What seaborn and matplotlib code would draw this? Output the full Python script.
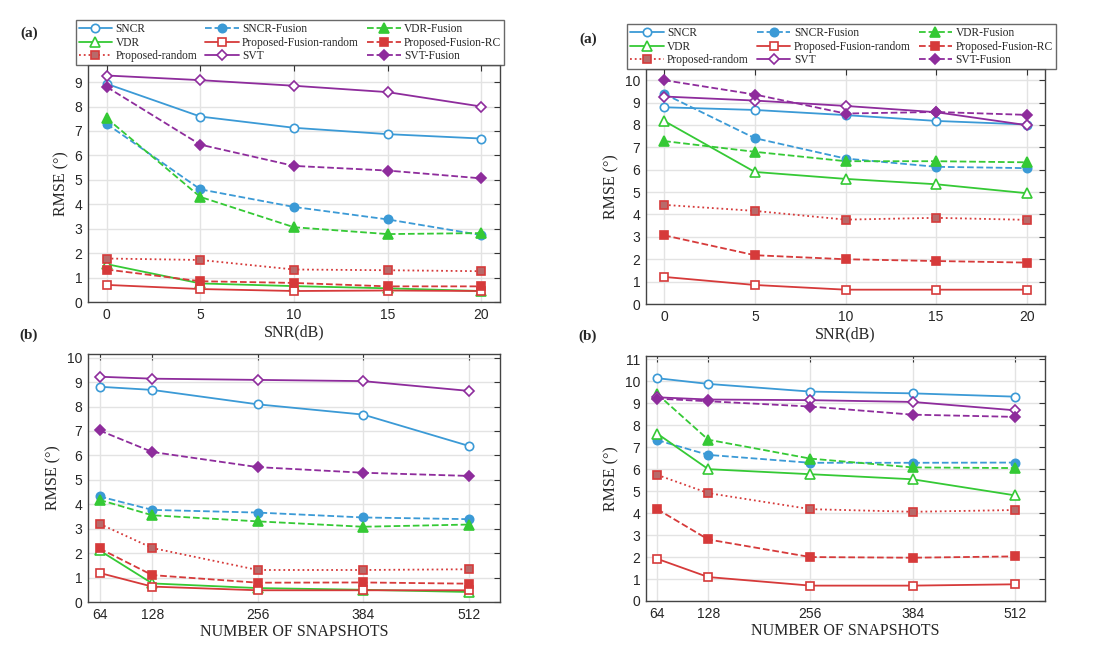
import numpy as np
import pandas as pd
import seaborn as sns
import matplotlib
matplotlib.use("Agg")
import matplotlib.pyplot as plt

# ---- data ----
snr = [0, 5, 10, 15, 20]
snaps = [64, 128, 256, 384, 512]

names = ["SNCR", "SNCR-Fusion", "VDR-Fusion", "VDR", "Proposed-Fusion-random",
         "Proposed-Fusion-RC", "Proposed-random", "SVT", "SVT-Fusion"]

# top left (a)
a1_sncr = [8.93, 7.59, 7.13, 6.87, 6.69]
a1_sncr_fus = [7.29, 4.61, 3.89, 3.38, 2.74]
a1_vdr_fus = [7.52, 4.30, 3.06, 2.78, 2.82]
a1_vdr = [1.55, 0.76, 0.65, 0.56, 0.45]
a1_pfr = [0.70, 0.53, 0.45, 0.47, 0.45]
a1_pfrc = [1.33, 0.85, 0.78, 0.64, 0.64]
a1_pr = [1.78, 1.72, 1.33, 1.30, 1.26]
a1_svt = [9.27, 9.08, 8.85, 8.59, 8.00]
a1_svt_fus = [8.80, 6.44, 5.57, 5.38, 5.06]

# top right (a)
a2_sncr = [8.79, 8.67, 8.44, 8.18, 8.02]
a2_sncr_fus = [9.39, 7.41, 6.50, 6.13, 6.07]
a2_vdr_fus = [7.28, 6.80, 6.38, 6.38, 6.33]
a2_vdr = [8.18, 5.90, 5.59, 5.35, 4.95]
a2_pfr = [1.21, 0.85, 0.64, 0.64, 0.64]
a2_pfrc = [3.07, 2.18, 2.00, 1.92, 1.85]
a2_pr = [4.43, 4.16, 3.77, 3.85, 3.76]
a2_svt = [9.27, 9.09, 8.85, 8.57, 7.99]
a2_svt_fus = [10.0, 9.36, 8.51, 8.58, 8.45]

# bottom left (b)
b1_sncr = [8.81, 8.68, 8.09, 7.67, 6.39]
b1_sncr_fus = [4.32, 3.77, 3.66, 3.46, 3.39]
b1_vdr_fus = [4.18, 3.55, 3.30, 3.08, 3.17]
b1_vdr = [2.11, 0.76, 0.57, 0.50, 0.41]
b1_pfr = [1.19, 0.63, 0.48, 0.48, 0.48]
b1_pfrc = [2.19, 1.10, 0.79, 0.80, 0.75]
b1_pr = [3.20, 2.21, 1.31, 1.31, 1.34]
b1_svt = [9.22, 9.14, 9.09, 9.04, 8.64]
b1_svt_fus = [7.02, 6.14, 5.52, 5.29, 5.16]

# bottom right (b)
b2_sncr = [10.14, 9.88, 9.53, 9.45, 9.30]
b2_sncr_fus = [7.32, 6.65, 6.29, 6.29, 6.30]
b2_vdr_fus = [9.42, 7.34, 6.48, 6.08, 6.05]
b2_vdr = [7.62, 6.00, 5.77, 5.54, 4.81]
b2_pfr = [1.92, 1.09, 0.70, 0.70, 0.76]
b2_pfrc = [4.18, 2.80, 2.00, 1.97, 2.03]
b2_pr = [5.74, 4.91, 4.18, 4.06, 4.14]
b2_svt = [9.27, 9.17, 9.14, 9.06, 8.68]
b2_svt_fus = [9.21, 9.09, 8.85, 8.48, 8.38]

panels = [
    (snr, [a1_sncr, a1_sncr_fus, a1_vdr_fus, a1_vdr, a1_pfr, a1_pfrc, a1_pr, a1_svt, a1_svt_fus]),
    (snr, [a2_sncr, a2_sncr_fus, a2_vdr_fus, a2_vdr, a2_pfr, a2_pfrc, a2_pr, a2_svt, a2_svt_fus]),
    (snaps, [b1_sncr, b1_sncr_fus, b1_vdr_fus, b1_vdr, b1_pfr, b1_pfrc, b1_pr, b1_svt, b1_svt_fus]),
    (snaps, [b2_sncr, b2_sncr_fus, b2_vdr_fus, b2_vdr, b2_pfr, b2_pfrc, b2_pr, b2_svt, b2_svt_fus]),
]

blue = "#3b9ad6"
green = "#35c935"
red = "#d63a3a"
purple = "#8e2c9c"

# color, linestyle, marker, facecolor, size
styles = [
    (blue, "-", "o", "white", 6.0),
    (blue, "--", "o", blue, 6.0),
    (green, "--", "^", green, 6.5),
    (green, "-", "^", "white", 6.5),
    (red, "-", "s", "white", 5.2),
    (red, "--", "s", red, 5.2),
    (red, ":", "s", "#b86a6a", 5.2),
    (purple, "-", "D", "white", 5.6),
    (purple, "--", "D", purple, 5.6),
]

sns.set_theme(style="whitegrid")
plt.rcParams["font.family"] = ["Liberation Sans", "DejaVu Sans"]
serif = ["Liberation Serif", "DejaVu Serif"]

fig = plt.figure(figsize=(11.02, 6.55), dpi=100)
W, H = 1102, 655

# pixel boxes: left, top, right, bottom
boxes = [(88, 65, 500, 302), (646, 69, 1045, 304),
         (88, 354, 500, 602), (646, 356, 1045, 601)]
ylims = [9.7, 10.5, 10.15, 11.15]
yticks = [range(0, 10), range(0, 11), range(0, 11), range(0, 12)]
tags = [("(a)", 29, 33), ("(a)", 588, 39), ("(b)", 29, 335), ("(b)", 588, 336)]

order = [0, 3, 6, 1, 4, 7, 2, 5, 8]

for i, (xs, series) in enumerate(panels):
    l, t, r, b = boxes[i]
    ax = fig.add_axes([l / W, (H - b) / H, (r - l) / W, (b - t) / H])
    for name, ys, (c, ls, mk, fc, ms) in zip(names, series, styles):
        sns.lineplot(x=xs, y=ys, ax=ax, color=c, linestyle=ls, marker=mk,
                     markersize=ms, markerfacecolor=fc, markeredgecolor=c,
                     markeredgewidth=1.2, linewidth=1.3, label=name)
    ax.set_ylim(0, ylims[i])
    ax.set_yticks(list(yticks[i]))
    if i < 2:
        ax.set_xlim(-1, 21)
        ax.set_xticks(snr)
        ax.set_xlabel("SNR(dB)", family=serif, fontsize=11.5, labelpad=2)
    else:
        ax.set_xlim(50, 550)
        ax.set_xticks(snaps)
        ax.set_xlabel("NUMBER OF SNAPSHOTS", family=serif, fontsize=11.5, labelpad=2)
    ax.set_ylabel("RMSE (°)", family=serif, fontsize=11.5, labelpad=4)
    ax.grid(True, color="#e3e3e3", linewidth=1.0)
    for sp in ax.spines.values():
        sp.set_color("#444444")
        sp.set_linewidth(1.0)
    ax.tick_params(direction="in", length=4, width=0.8, color="#333333",
                   top=True, right=True, labelsize=10, pad=4)
    handles, labels = ax.get_legend_handles_labels()
    if ax.get_legend() is not None:
        ax.get_legend().remove()
    if i < 2:
        leg = ax.legend([handles[k] for k in order], [labels[k] for k in order],
                        loc="lower center", bbox_to_anchor=(0.49, 1.0), ncol=3,
                        frameon=True, fancybox=False, edgecolor="#444444",
                        prop={"family": serif, "size": 8.3},
                        handlelength=2.9, columnspacing=0.7, labelspacing=0.12,
                        borderpad=0.25, handletextpad=0.3, borderaxespad=0.0)
        leg.get_frame().set_linewidth(1.0)

for txt, x, y in tags:
    fig.text(x / W, 1 - y / H, txt, family=serif, fontsize=11, fontweight="bold",
             ha="center", va="center")

fig.savefig("out.png", dpi=100)
